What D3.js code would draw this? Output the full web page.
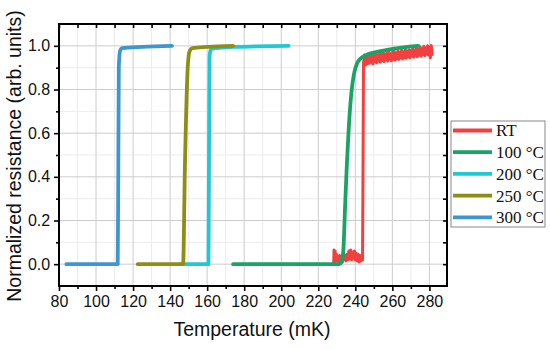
<!DOCTYPE html>
<html>
<head>
<meta charset="utf-8">
<script src="https://cdn.jsdelivr.net/npm/d3@7"></script>
<style>
  body { margin: 0; background: #fff; }
  svg { display: block; }
</style>
</head>
<body>
<div id="chart"></div>
<script>
// curve data: [temperature mK, normalized resistance]
const rt = [
  [228.3, 0.0], [228.5, 0.065], [228.8, 0.01], [229.1, 0.06], [229.4, 0.02], [229.8, 0.045],
  [230.2, 0.015], [230.6, 0.035], [231.0, 0.01], [231.5, 0.04], [232.0, 0.015], [232.5, 0.03],
  [233.0, 0.01], [233.5, 0.035], [234.0, 0.02], [234.5, 0.04], [235.0, 0.015], [235.5, 0.045],
  [236.0, 0.02], [236.5, 0.06], [237.0, 0.025], [237.5, 0.065], [238.0, 0.02], [238.5, 0.055],
  [239.0, 0.03], [239.5, 0.06], [240.0, 0.02], [240.5, 0.05], [241.0, 0.015], [241.5, 0.045],
  [242.0, 0.01], [242.5, 0.04], [243.0, 0.015], [243.5, 0.03], [243.9, 0.02], [244.2, 0.5],
  [244.4, 0.92], [245.0, 0.958], [245.5, 0.912], [246.0, 0.955], [246.5, 0.918], [247.0, 0.962],
  [247.5, 0.920], [248.0, 0.950], [248.5, 0.925], [249.0, 0.963], [249.5, 0.917], [250.0, 0.958],
  [250.5, 0.928], [251.0, 0.966], [251.5, 0.922], [252.0, 0.957], [252.5, 0.930], [253.0, 0.968],
  [253.5, 0.925], [254.0, 0.960], [254.5, 0.933], [255.0, 0.970], [255.5, 0.928], [256.0, 0.962],
  [256.5, 0.935], [257.0, 0.965], [257.5, 0.930], [258.0, 0.972], [258.5, 0.938], [259.0, 0.963],
  [259.5, 0.932], [260.0, 0.970], [260.5, 0.940], [261.0, 0.975], [261.5, 0.935], [262.0, 0.966],
  [262.5, 0.942], [263.0, 0.978], [263.5, 0.938], [264.0, 0.970], [264.5, 0.945], [265.0, 0.980],
  [265.5, 0.940], [266.0, 0.972], [266.5, 0.947], [267.0, 0.985], [267.5, 0.943], [268.0, 0.975],
  [268.5, 0.950], [269.0, 0.982], [269.5, 0.945], [270.0, 0.978], [270.5, 0.952], [271.0, 0.990],
  [271.5, 0.948], [272.0, 0.980], [272.5, 0.955], [273.0, 0.992], [273.5, 0.950], [274.0, 0.984],
  [274.5, 0.958], [275.0, 0.995], [275.5, 0.952], [276.0, 0.986], [276.5, 0.960], [277.0, 0.998],
  [277.5, 0.955], [278.0, 0.990], [278.5, 0.962], [279.0, 1.000], [279.5, 0.958], [280.0, 0.995],
  [280.5, 0.945], [281.0, 1.002], [281.5, 0.960]
];
const c100 = [
  [174, 0.0], [231.5, 0.0], [232.5, 0.01], [233.5, 0.06], [234.5, 0.27], [235.5, 0.47],
  [236.5, 0.63], [237.5, 0.75], [238.5, 0.83], [239.5, 0.88], [241, 0.92], [243, 0.943],
  [246, 0.958], [250, 0.969], [256, 0.979], [262, 0.988], [268, 0.995], [274, 1.0]
];
const c200 = [
  [146, 0.0], [160.7, 0.0], [161.0, 0.5], [161.3, 0.95], [162, 0.985], [165, 0.99],
  [174, 0.995], [204, 1.0]
];
const c250 = [
  [122.5, 0.0], [147, 0.0], [148, 0.45], [149.5, 0.9], [150.5, 0.975], [152, 0.99],
  [160, 0.995], [174, 1.0]
];
const c300 = [
  [84, 0.0], [111.7, 0.0], [112.0, 0.4], [112.3, 0.9], [112.9, 0.975], [114, 0.99],
  [125, 0.995], [141, 1.0]
];

const seriesNames = ['RT', '100 °C', '200 °C', '250 °C', '300 °C'];
const seriesData = [rt, c100, c200, c250, c300];
const seriesColors = ['#f23f3f', '#19a466', '#1ec9d5', '#8e8e16', '#3d97cf'];

const xMajor = [80, 100, 120, 140, 160, 180, 200, 220, 240, 260, 280];
const xMinor = [90, 110, 130, 150, 170, 190, 210, 230, 250, 270];
const yMajor = [0.0, 0.2, 0.4, 0.6, 0.8, 1.0];
const yMinor = [0.1, 0.3, 0.5, 0.7, 0.9];

const W = 550, H = 349;
const m = { left: 59, top: 24, right: 103, bottom: 63 };
const iw = W - m.left - m.right, ih = H - m.top - m.bottom;

const svg = d3.select('#chart').append('svg')
  .attr('width', W).attr('height', H);

const x = d3.scaleLinear().domain([80, 289.5]).range([m.left, m.left + iw]);
const y = d3.scaleLinear().domain([-0.1, 1.1]).range([m.top + ih, m.top]);

// grid
const grid = svg.append('g');
grid.selectAll('.vmin').data(xMinor).enter().append('line')
  .attr('x1', d => x(d)).attr('x2', d => x(d)).attr('y1', m.top).attr('y2', m.top + ih)
  .attr('stroke', '#ececec').attr('stroke-width', 1);
grid.selectAll('.hmin').data(yMinor).enter().append('line')
  .attr('y1', d => y(d)).attr('y2', d => y(d)).attr('x1', m.left).attr('x2', m.left + iw)
  .attr('stroke', '#ececec').attr('stroke-width', 1);
grid.selectAll('.vmaj').data(xMajor.slice(1)).enter().append('line')
  .attr('x1', d => x(d)).attr('x2', d => x(d)).attr('y1', m.top).attr('y2', m.top + ih)
  .attr('stroke', '#cccccc').attr('stroke-width', 1);
grid.selectAll('.hmaj').data(yMajor).enter().append('line')
  .attr('y1', d => y(d)).attr('y2', d => y(d)).attr('x1', m.left).attr('x2', m.left + iw)
  .attr('stroke', '#cccccc').attr('stroke-width', 1);

// curves
const line = d3.line().x(d => x(d[0])).y(d => y(d[1])).curve(d3.curveMonotoneX);
const lineRaw = d3.line().x(d => x(d[0])).y(d => y(d[1]));
svg.append('g').selectAll('path').data(seriesData).enter().append('path')
  .attr('d', (d, i) => i === 0 ? lineRaw(d) : line(d))
  .attr('fill', 'none')
  .attr('stroke', (d, i) => seriesColors[i])
  .attr('stroke-width', (d, i) => i === 0 ? 3 : 3.8)
  .attr('stroke-linejoin', 'round')
  .attr('stroke-linecap', 'round');

// axes
const tickFont = 'Liberation Sans, Arial, sans-serif';
const allX = xMajor.concat(xMinor);
const allY = yMajor.concat(yMinor);

const xb = svg.append('g').attr('transform', `translate(0,${m.top + ih})`)
  .call(d3.axisBottom(x).tickValues(xMajor).tickSize(5).tickFormat(d3.format('d')));
const xbm = svg.append('g').attr('transform', `translate(0,${m.top + ih})`)
  .call(d3.axisBottom(x).tickValues(xMinor).tickSize(3).tickFormat(''));
const xt = svg.append('g').attr('transform', `translate(0,${m.top})`)
  .call(d3.axisBottom(x).tickValues(allX).tickSize(4).tickFormat(''));
const yl = svg.append('g').attr('transform', `translate(${m.left},0)`)
  .call(d3.axisLeft(y).tickValues(yMajor).tickSize(5).tickFormat(d3.format('.1f')));
const ylm = svg.append('g').attr('transform', `translate(${m.left},0)`)
  .call(d3.axisLeft(y).tickValues(yMinor).tickSize(3).tickFormat(''));
const yr = svg.append('g').attr('transform', `translate(${m.left + iw},0)`)
  .call(d3.axisLeft(y).tickValues(allY).tickSize(4).tickFormat(''));

[xb, xbm, xt, yl, ylm, yr].forEach(g => {
  g.select('.domain').remove();
  g.selectAll('line').attr('stroke', '#000').attr('stroke-width', 1.6);
  g.selectAll('text').attr('font-family', tickFont).attr('font-size', 16).attr('fill', '#111');
});
xb.selectAll('text').attr('dy', '0.8em');
yl.selectAll('text').attr('dx', '-0.05em');

svg.append('rect')
  .attr('x', m.left).attr('y', m.top).attr('width', iw).attr('height', ih)
  .attr('fill', 'none').attr('stroke', '#000').attr('stroke-width', 2);

// titles
svg.append('text')
  .attr('x', 252).attr('y', 336)
  .attr('text-anchor', 'middle')
  .attr('font-family', tickFont).attr('font-size', 19.5).attr('fill', '#111')
  .text('Temperature (mK)');
svg.append('text')
  .attr('transform', 'translate(21,156) rotate(-90)')
  .attr('text-anchor', 'middle')
  .attr('font-family', tickFont).attr('font-size', 19.5).attr('fill', '#111')
  .text('Normalized resistance (arb. units)');

// legend
const lg = svg.append('g').attr('transform', 'translate(451,121)');
lg.append('rect').attr('width', 94).attr('height', 106)
  .attr('fill', '#fff').attr('stroke', '#888').attr('stroke-width', 1);
const items = lg.selectAll('.item').data(seriesNames).enter().append('g')
  .attr('transform', (d, i) => `translate(0,${9.5 + i * 21.7})`);
items.append('line').attr('x1', 2).attr('x2', 41).attr('y1', 0).attr('y2', 0)
  .attr('stroke', (d, i) => seriesColors[i]).attr('stroke-width', 3.8);
items.append('text').attr('x', 45).attr('dy', '0.35em')
  .attr('font-family', 'Liberation Serif, Times New Roman, serif').attr('font-size', 17)
  .attr('fill', '#111').text(d => d);
</script>
</body>
</html>
